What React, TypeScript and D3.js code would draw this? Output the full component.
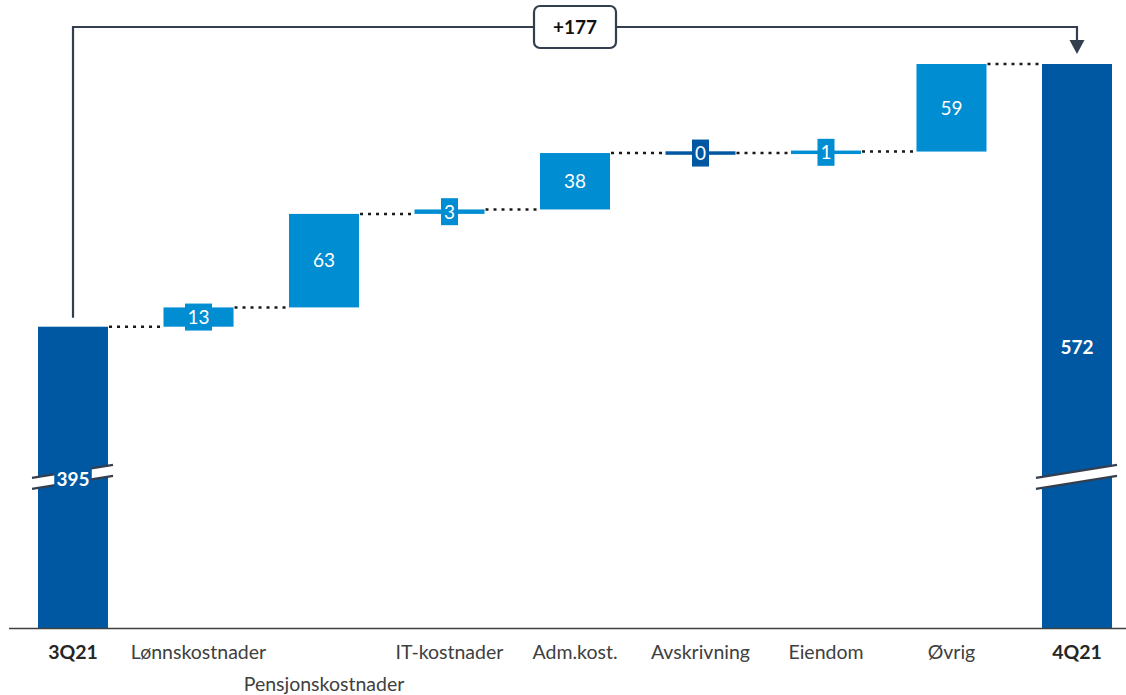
import React from 'react';
import * as d3 from 'd3';

const categories = ['3Q21', 'Lønnskostnader', 'Pensjonskostnader', 'IT-kostnader', 'Adm.kost.', 'Avskrivning', 'Eiendom', 'Øvrig', '4Q21'];
const startValue = 395;
const endValue = 572;
const deltas = [13, 63, 3, 38, 0, 1, 59];
const totalChangeLabel = '+177';
const staggeredLabels = ['Pensjonskostnader'];

const W = 1126;
const H = 695;
const DARK = '#0058A3';
const LIGHT = '#008DD2';
const INK = '#333F4F';
const FONT = 'Lato, "Open Sans", sans-serif';

export default function App() {
  const x = d3.scaleBand<string>().domain(categories).range([38, 1112]).paddingInner(0.442).paddingOuter(0);
  const y = d3.scaleLinear().domain([192, 572]).range([628, 64]);
  const bw = x.bandwidth();

  const cum: number[] = [startValue];
  deltas.forEach((d) => cum.push(cum[cum.length - 1] + d));
  type Bar = { cat: string; y0: number; y1: number; color: string; label: string; total: boolean };
  const bars: Bar[] = [];
  bars.push({ cat: categories[0], y0: d3.min(y.domain())!, y1: startValue, color: DARK, label: String(startValue), total: true });
  deltas.forEach((d, i) => {
    bars.push({ cat: categories[i + 1], y0: cum[i], y1: cum[i + 1], color: d === 0 ? DARK : LIGHT, label: String(d), total: false });
  });
  bars.push({ cat: categories[categories.length - 1], y0: d3.min(y.domain())!, y1: endValue, color: DARK, label: String(endValue), total: true });

  const levels = [startValue, ...cum.slice(1)];
  const breakY = (y(bars[0].y0) + y(bars[0].y1)) / 2 + 0.5;
  const cx = (c: string) => (x(c) as number) + bw / 2;
  const firstC = cx(categories[0]);
  const lastC = cx(categories[categories.length - 1]);
  const topY = 27;

  return (
    <svg width={W} height={H} style={{ position: 'absolute', left: 0, top: 0, background: '#fff' }} fontFamily={FONT}>
      {bars.slice(0, -1).map((b, i) => {
        const x1 = (x(b.cat) as number) + bw;
        const x2 = x(bars[i + 1].cat) as number;
        const lv = y(levels[i]);
        return <line key={'c' + i} x1={x1 + 1} x2={x2 - 1} y1={lv} y2={lv} stroke="#1a1a1a" strokeWidth={2.5} strokeDasharray="3 5" />;
      })}
      {bars.map((b, i) => {
        const top = Math.min(y(b.y0), y(b.y1));
        const bot = Math.max(y(b.y0), y(b.y1));
        let h = bot - top;
        let yy = top;
        if (h < 3.5) {
          const mid = (top + bot) / 2;
          h = 3.5;
          yy = mid - h / 2;
        }
        return <rect key={'b' + i} x={x(b.cat)} y={yy} width={bw} height={h} fill={b.color} />;
      })}
      {[bars[0], bars[bars.length - 1]].map((b, i) => {
        const xl = (x(b.cat) as number) - 6;
        const xr = (x(b.cat) as number) + bw + 5;
        const slope = -13;
        const gap = 11;
        const pTop = `M${xl},${breakY} L${xr},${breakY + slope}`;
        const pBot = `M${xl},${breakY + gap} L${xr},${breakY + slope + gap}`;
        const poly = `${xl},${breakY} ${xr},${breakY + slope} ${xr},${breakY + slope + gap} ${xl},${breakY + gap}`;
        return (
          <g key={'br' + i}>
            <polygon points={poly} fill="#fff" />
            <path d={pTop} stroke={INK} strokeWidth={2.2} />
            <path d={pBot} stroke={INK} strokeWidth={2.2} />
          </g>
        );
      })}
      {bars.map((b, i) => {
        const c = cx(b.cat);
        const mid = (y(b.y0) + y(b.y1)) / 2;
        if (b.total) {
          const w = 11.5 * b.label.length + 3;
          const ly = i === 0 ? breakY + 1 : mid + 1.5;
          return (
            <g key={'l' + i}>
              <rect x={c - w / 2} y={ly - 12} width={w} height={24} fill={b.color} />
              <text x={c} y={ly} dy="0.36em" textAnchor="middle" fill="#fff" fontWeight={700} fontSize={19}>{b.label}</text>
            </g>
          );
        }
        const w = 10 * b.label.length + 7;
        return (
          <g key={'l' + i}>
            <rect x={c - w / 2} y={mid - 13.5} width={w} height={27} fill={b.color} />
            <text x={c} y={mid} dy="0.36em" textAnchor="middle" fill="#fff" fontSize={19}>{b.label}</text>
          </g>
        );
      })}
      <line x1={9} x2={W} y1={628.5} y2={628.5} stroke="#404040" strokeWidth={1.5} />
      {categories.map((c, i) => {
        const total = i === 0 || i === categories.length - 1;
        const stag = staggeredLabels.includes(c);
        return (
          <text key={'x' + c} x={cx(c)} y={stag ? 691 : 659} textAnchor="middle" fontSize={19.5} fill={total ? '#262626' : '#404040'} fontWeight={total ? 700 : 400}>
            {c}
          </text>
        );
      })}
      <path d={`M${firstC},${y(startValue) - 9} V${topY} H${lastC} V${y(endValue) - 23}`} fill="none" stroke={INK} strokeWidth={2.2} />
      <polygon points={`${lastC - 7.5},${y(endValue) - 24} ${lastC + 7.5},${y(endValue) - 24} ${lastC},${y(endValue) - 10}`} fill={INK} />
      <rect x={(firstC + lastC) / 2 - 41} y={6} width={82} height={42} rx={6} fill="#fff" stroke={INK} strokeWidth={2.2} />
      <text x={(firstC + lastC) / 2} y={topY} dy="0.36em" textAnchor="middle" fontSize={19} fontWeight={700} fill="#111">{totalChangeLabel}</text>
    </svg>
  );
}
